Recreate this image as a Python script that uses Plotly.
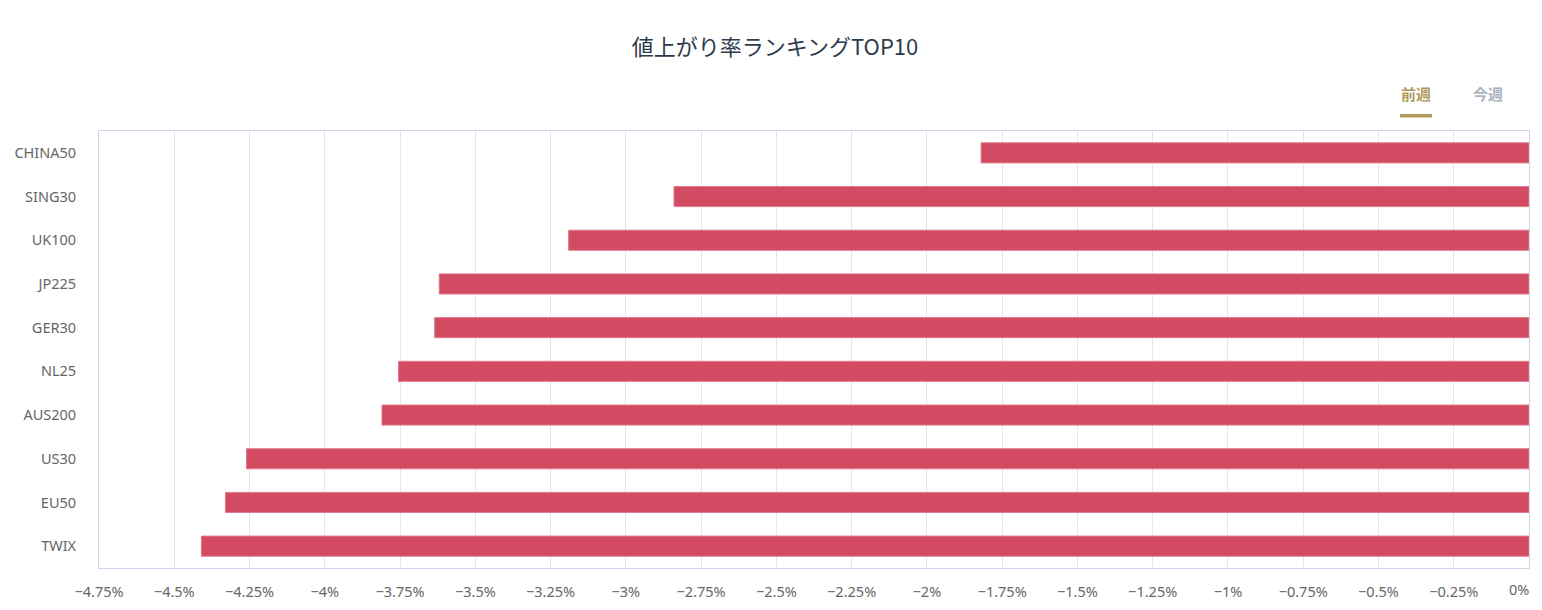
import plotly.graph_objects as go

symbols = ["CHINA50", "SING30", "UK100", "JP225", "GER30", "NL25", "AUS200", "US30", "EU50", "TWIX"]
change_pct = [-1.82, -2.84, -3.19, -3.62, -3.635, -3.755, -3.81, -4.26, -4.33, -4.41]

tick_vals = [-4.75, -4.5, -4.25, -4, -3.75, -3.5, -3.25, -3, -2.75, -2.5, -2.25, -2,
             -1.75, -1.5, -1.25, -1, -0.75, -0.5, -0.25, 0]
tick_text = ["\u2212" + f"{abs(v):g}%" if v else "0%" for v in tick_vals]

title_text = "値上がり率ランキングTOP10"
tabs = ["前週", "今週"]

FONT = "Noto Sans CJK JP, Noto Sans, sans-serif"
TICK_FONT = "Noto Sans, Noto Sans CJK JP, sans-serif"

# the page body has an 8px margin, so the figure is sized / offset to fit the window
OFF = 8
W, H = 1542 - OFF, 610 - OFF
L, R, T, B = 99 - OFF, 13, 131 - OFF, 42
plot_w = W - L - R
plot_h = H - T - B


def px(x):
    return (x - 99) / plot_w


def py(y):
    return (568 - y) / plot_h


fig = go.Figure()
fig.add_trace(
    go.Bar(
        x=change_pct,
        y=symbols,
        orientation="h",
        width=0.46,
        marker=dict(color="#d34b63", line=dict(color="#e07a8c", width=1)),
        hoverinfo="x+y",
    )
)

# last tick label ("0%") is drawn right-aligned as an annotation so it is not cut off
axis_text = tick_text[:-1] + [""]

fig.update_layout(
    width=W,
    height=H,
    paper_bgcolor="white",
    plot_bgcolor="white",
    margin=dict(l=L, r=R, t=T, b=B, autoexpand=False),
    showlegend=False,
    font=dict(family=FONT, color="#666666", size=13),
    title=dict(
        text=title_text,
        x=0.5,
        xanchor="center",
        y=1 - (47 - OFF) / H,
        yanchor="middle",
        font=dict(size=22, color="#2f3b4c", family=FONT),
    ),
    xaxis=dict(
        range=[-4.75, 0],
        tickvals=tick_vals,
        ticktext=axis_text,
        showgrid=True,
        gridcolor="#e6e6e6",
        gridwidth=1,
        zeroline=False,
        showline=True,
        linecolor="#ccd6eb",
        mirror=True,
        ticks="",
        ticklabelstandoff=11,
        tickfont=dict(size=14.5, color="#666666", family=TICK_FONT),
        fixedrange=True,
        automargin=False,
    ),
    yaxis=dict(
        autorange="reversed",
        showgrid=False,
        zeroline=False,
        showline=True,
        linecolor="#ccd6eb",
        mirror=True,
        ticks="",
        ticklabelstandoff=19,
        tickfont=dict(size=14.5, color="#666666", family=TICK_FONT),
        fixedrange=True,
        automargin=False,
    ),
    bargap=0.54,
)

fig.add_annotation(
    text=tick_text[-1], xref="paper", yref="paper", x=px(1531), y=py(589),
    showarrow=False, font=dict(size=14.5, color="#666666", family=TICK_FONT),
    xanchor="right", yanchor="middle",
)

# tab buttons at top right
fig.add_annotation(
    text=f"<b>{tabs[0]}</b>", xref="paper", yref="paper", x=px(1416), y=py(93),
    showarrow=False, font=dict(size=15, color="#b09a5b", family=FONT),
    xanchor="center", yanchor="middle",
)
fig.add_annotation(
    text=f"<b>{tabs[1]}</b>", xref="paper", yref="paper", x=px(1488), y=py(93),
    showarrow=False, font=dict(size=15, color="#a7b1bd", family=FONT),
    xanchor="center", yanchor="middle",
)
fig.add_shape(
    type="rect", xref="paper", yref="paper",
    x0=px(1400), x1=px(1432), y0=py(117.5), y1=py(114),
    fillcolor="#b09a5b", line=dict(width=0),
)

fig.write_html("out.html")
